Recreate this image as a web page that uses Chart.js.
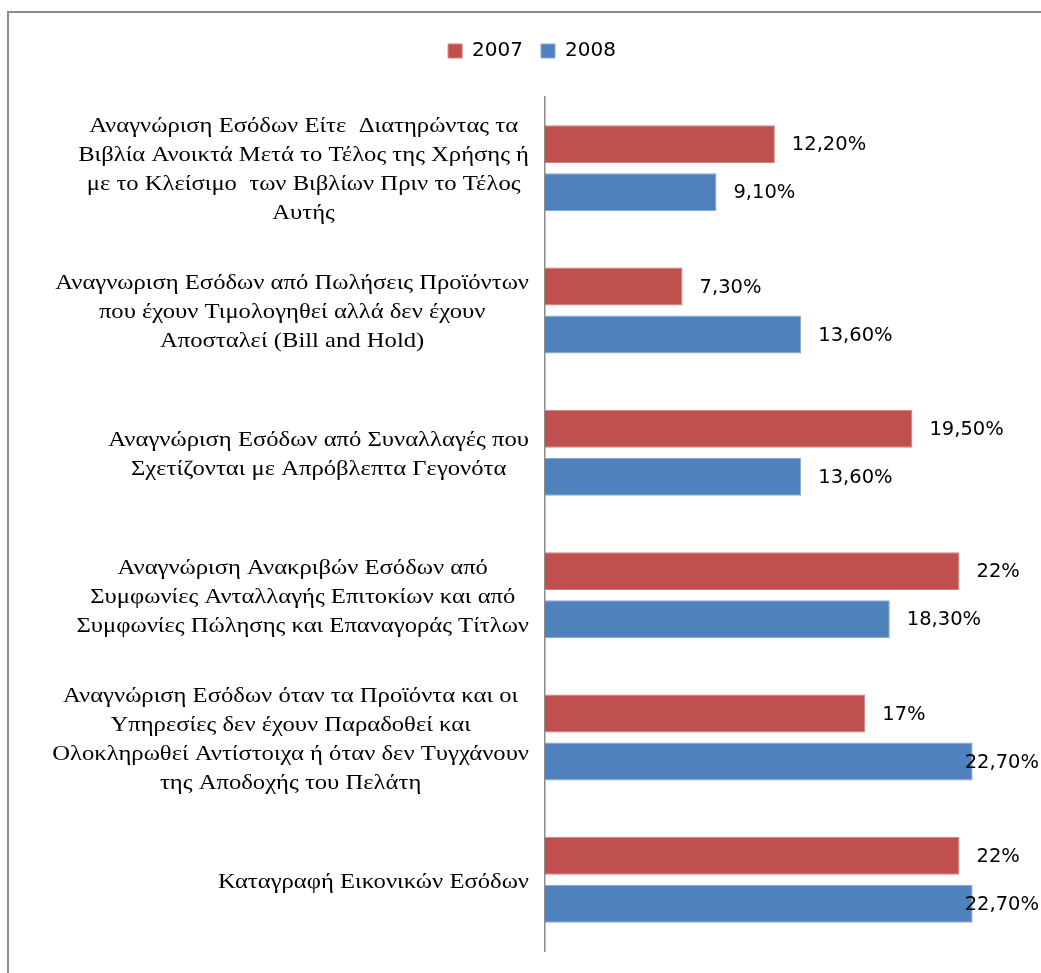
<!DOCTYPE html>
<html>
<head>
<meta charset="utf-8">
<title>Αναγνώριση Εσόδων 2007 - 2008</title>
<script src="https://cdn.jsdelivr.net/npm/chart.js@4.4.1/dist/chart.umd.min.js"></script>
<style>
  html, body { margin: 0; padding: 0; background: #fff; }
  #wrap { position: relative; width: 1041px; height: 973px; overflow: hidden; }
  #frame {
    position: absolute; left: 7px; top: 11px; width: 1100px; height: 1000px;
    border-top: 2px solid #8c8c8c; border-left: 2px solid #8c8c8c;
  }
  #chart { position: absolute; left: 0; top: 0; }
</style>
</head>
<body>
<div id="wrap">
  <div id="frame"></div>
  <canvas id="chart" width="1041" height="973"></canvas>
</div>
<script>
// categories, one array of lines per bar group
const categories = [
  ["Αναγνώριση Εσόδων Είτε  Διατηρώντας τα", "Βιβλία Ανοικτά Μετά το Τέλος της Χρήσης ή", "με το Κλείσιμο  των Βιβλίων Πριν το Τέλος", "Αυτής"],
  ["Αναγνωριση Εσόδων από Πωλήσεις Προϊόντων", "που έχουν Τιμολογηθεί αλλά δεν έχουν", "Αποσταλεί (Bill and Hold)"],
  ["Αναγνώριση Εσόδων από Συναλλαγές που", "Σχετίζονται με Απρόβλεπτα Γεγονότα"],
  ["Αναγνώριση Ανακριβών Εσόδων από", "Συμφωνίες Ανταλλαγής Επιτοκίων και από", "Συμφωνίες Πώλησης και Επαναγοράς Τίτλων"],
  ["Αναγνώριση Εσόδων όταν τα Προϊόντα και οι", "Υπηρεσίες δεν έχουν Παραδοθεί και", "Ολοκληρωθεί Αντίστοιχα ή όταν δεν Τυγχάνουν", "της Αποδοχής του Πελάτη"],
  ["Καταγραφή Εικονικών Εσόδων"]
];
const seriesNames = ["2007", "2008"];
const values2007 = [12.2, 7.3, 19.5, 22, 17, 22];
const values2008 = [9.1, 13.6, 13.6, 18.3, 22.7, 22.7];

// 12.2 -> "12,20%", 22 -> "22%"
function fmt(v) {
  return (Number.isInteger(v) ? String(v) : v.toFixed(2).replace(".", ",")) + "%";
}

// serif category text, lines centred inside a block that sits against the axis
const categoryText = {
  id: "categoryText",
  afterDraw(chart) {
    const { ctx } = chart;
    const y = chart.scales.y;
    const sx = 1.12; // slightly widened serif face
    ctx.save();
    ctx.font = '22px "Liberation Serif"';
    ctx.fillStyle = "#000";
    ctx.textAlign = "center";
    ctx.textBaseline = "middle";
    categories.forEach((lines, i) => {
      const w = Math.max(...lines.map(l => ctx.measureText(l).width)) * sx;
      const cx = y.right - 16 - w / 2;
      const cy = y.getPixelForTick(i) + 2;
      lines.forEach((l, k) => {
        ctx.save();
        ctx.translate(cx, cy + (k - (lines.length - 1) / 2) * 29);
        ctx.scale(sx, 1);
        ctx.fillText(l, 0, 0);
        ctx.restore();
      });
    });
    ctx.restore();
  }
};

const valueText = {
  id: "valueText",
  afterDatasetsDraw(chart) {
    const { ctx } = chart;
    ctx.save();
    ctx.font = '19.5px "DejaVu Sans"';
    ctx.fillStyle = "#000";
    ctx.textAlign = "left";
    ctx.textBaseline = "middle";
    chart.data.datasets.forEach((ds, di) => {
      chart.getDatasetMeta(di).data.forEach((bar, i) => {
        const txt = fmt(ds.data[i]);
        const w = ctx.measureText(txt).width;
        const x = Math.min(bar.x + 17, chart.width - 2 - w);
        ctx.fillText(txt, x, bar.y + 1);
      });
    });
    ctx.restore();
  }
};

const ctx = document.getElementById("chart").getContext("2d");
new Chart(ctx, {
  type: "bar",
  data: {
    labels: categories,
    datasets: [
      {
        label: seriesNames[0],
        data: values2007,
        backgroundColor: "#C0504D",
        borderColor: "#cf7e7c",
        borderWidth: 1,
        borderSkipped: "left"
      },
      {
        label: seriesNames[1],
        data: values2008,
        backgroundColor: "#4F81BD",
        borderColor: "#86a8d4",
        borderWidth: 1,
        borderSkipped: "left"
      }
    ]
  },
  options: {
    indexAxis: "y",
    responsive: false,
    animation: false,
    devicePixelRatio: 1,
    categoryPercentage: 0.675,
    barPercentage: 0.79,
    layout: { padding: { top: 23, right: 25, bottom: 22, left: 48 } },
    plugins: {
      legend: {
        position: "top",
        labels: {
          boxWidth: 14,
          boxHeight: 14,
          padding: 18,
          color: "#000",
          font: { family: "DejaVu Sans", size: 20 }
        }
      },
      tooltip: { enabled: false }
    },
    scales: {
      x: {
        position: "top",
        min: 0,
        max: 25,
        ticks: { display: false },
        grid: { display: false },
        border: { display: false },
        afterFit: s => { s.height = 26; }
      },
      y: {
        ticks: { display: false },
        grid: { display: false },
        border: { display: true, color: "#8c8c8c", width: 1.5 },
        afterFit: s => { s.width = 497; }
      }
    }
  },
  plugins: [categoryText, valueText]
});
</script>
</body>
</html>
